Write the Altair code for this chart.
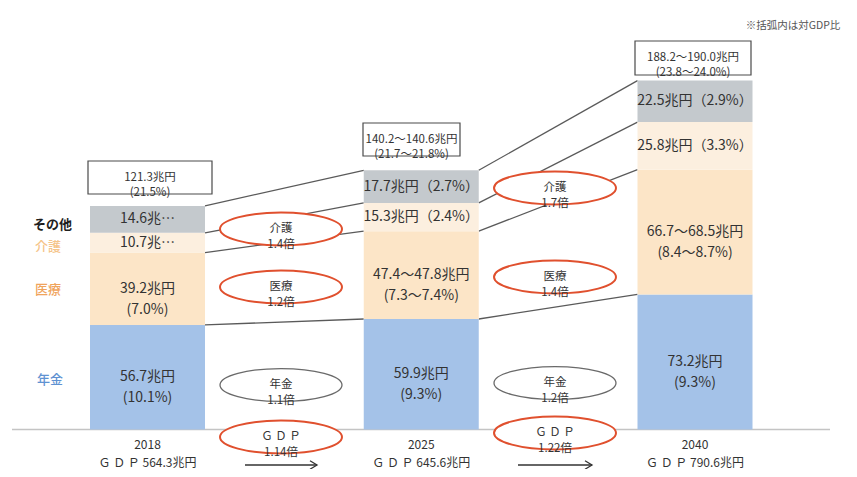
import altair as alt
import pandas as pd

# ---------------- data ----------------
years = ["2018", "2025", "2040"]
gdp_total = ["564.3", "645.6", "790.6"]
categories = ["年金", "医療", "介護", "その他"]
pension = [56.7, 59.9, 73.2]
medical_low = [39.2, 47.4, 66.7]
medical_high = [39.2, 47.8, 68.5]
care = [10.7, 15.3, 25.8]
other = [14.6, 17.7, 22.5]
pension_label = ["56.7兆円\n(10.1%)", "59.9兆円\n(9.3%)", "73.2兆円\n(9.3%)"]
medical_label = ["39.2兆円\n(7.0%)", "47.4～47.8兆円\n(7.3～7.4%)", "66.7～68.5兆円\n(8.4～8.7%)"]
care_label = ["10.7兆…", "15.3兆円（2.4%）", "25.8兆円（3.3%）"]
other_label = ["14.6兆…", "17.7兆円（2.7%）", "22.5兆円（2.9%）"]
total_label = ["121.3兆円\n(21.5%)", "140.2～140.6兆円\n(21.7～21.8%)", "188.2～190.0兆円\n(23.8～24.0%)"]
care_ratio = ["1.4倍", "1.7倍"]
medical_ratio = ["1.2倍", "1.4倍"]
pension_ratio = ["1.1倍", "1.2倍"]
gdp_ratio = ["1.14倍", "1.22倍"]
note = "※括弧内は対GDP比"

# ---------------- layout ----------------
W, H = 841, 461
BAR0, STEP = 147.5, 273.75      # page px of first bar centre, spacing
BASE, PX = 429.5, 1.845         # page px of zero line, px per 兆円
FONT = "Noto Sans CJK JP"


def ux(p):
    return (p - BAR0) / STEP


def uy(p):
    return (BASE - p) / PX


xs = alt.Scale(domain=[ux(8), ux(8 + W)], nice=False, zero=False)
ys = alt.Scale(domain=[uy(8 + H), uy(8)], nice=False, zero=False)
hw = 57.5 / STEP

seg_colors = ["#a4c2e8", "#fce5c7", "#fcefdf", "#c4c9cd"]

seg_rows, line_rows, cum_all = [], [], []
for i in range(3):
    med = (medical_low[i] + medical_high[i]) / 2
    vals = [pension[i], med, care[i], other[i]]
    labs = [pension_label[i], medical_label[i], care_label[i], other_label[i]]
    c = 0.0
    cums = []
    for k in range(4):
        seg_rows.append(dict(x=i - hw, x2=i + hw, y=c, y2=c + vals[k], cat=categories[k],
                             label=labs[k], mid=c + vals[k] / 2, xc=i))
        c += vals[k]
        cums.append(c)
    cum_all.append(cums)
for i in range(2):
    for k in range(4):
        line_rows.append(dict(x=i + hw, x2=i + 1 - hw, y=cum_all[i][k], y2=cum_all[i + 1][k]))
seg_df = pd.DataFrame(seg_rows)
line_df = pd.DataFrame(line_rows)

X = lambda f="x": alt.X(f"{f}:Q", scale=xs, axis=None)
Y = lambda f="y": alt.Y(f"{f}:Q", scale=ys, axis=None)

axis_line = alt.Chart(pd.DataFrame([dict(x=ux(12), x2=ux(830), y=0)])).mark_rule(
    color="#c4c4c4", strokeWidth=1.5).encode(x=X(), x2="x2:Q", y=Y())

links = alt.Chart(line_df).mark_rule(color="#5a5a5a", strokeWidth=1.3).encode(
    x=X(), x2="x2:Q", y=Y(), y2="y2:Q")

bars = alt.Chart(seg_df).mark_rect().encode(
    x=X(), x2="x2:Q", y=Y(), y2="y2:Q",
    color=alt.Color("cat:N", scale=alt.Scale(domain=categories, range=seg_colors), legend=None))

bar_text = alt.Chart(seg_df).mark_text(font=FONT, fontSize=14, color="#333333",
                                       lineBreak="\n", lineHeight=21, baseline="middle").encode(
    x=X("xc"), y=Y("mid"), text="label:N")

# total boxes
box_px = [(88, 212, 161, 194), (363, 460, 123, 156), (635, 751, 41, 75)]
box_df = pd.DataFrame([dict(x=ux(l), x2=ux(r), y=uy(b), y2=uy(t), xc=ux((l + r) / 2),
                            yc=uy((t + b) / 2), label=total_label[i])
                       for i, (l, r, t, b) in enumerate(box_px)])
boxes = alt.Chart(box_df).mark_rect(fill="white", stroke="#4a4a4a", strokeWidth=1.2).encode(
    x=X(), x2="x2:Q", y=Y(), y2="y2:Q")
box_text = alt.Chart(box_df).mark_text(font=FONT, fontSize=11.5, color="#333333",
                                       lineBreak="\n", lineHeight=15, baseline="middle").encode(
    x=X("xc"), y=Y("yc"), text="label:N")

# ellipses
RED, GRAY = "#e0502e", "#6a6a6a"
ell_x_px = [281, 555]
ell_specs = [("介護", care_ratio, [229, 188], RED),
             ("医療", medical_ratio, [287, 277], RED),
             ("年金", pension_ratio, [385, 383], GRAY),
             ("Ｇ Ｄ Ｐ", gdp_ratio, [437, 433], RED)]
ell_rows = []
for name, ratios, yv, col in ell_specs:
    for j in range(2):
        ell_rows.append(dict(x=ux(ell_x_px[j]), y=uy(yv[j]), label=f"{name}\n{ratios[j]}",
                             stroke=col, sw=2.0 if col == RED else 1.3))
ell_df = pd.DataFrame(ell_rows)
ry = 0.27
k = 0.5523
ell_path = (f"M-1,0 C-1,{-ry*k:.4f} {-k:.4f},{-ry} 0,{-ry} C{k:.4f},{-ry} 1,{-ry*k:.4f} 1,0 "
            f"C1,{ry*k:.4f} {k:.4f},{ry} 0,{ry} C{-k:.4f},{ry} -1,{ry*k:.4f} -1,0 Z")
ellipses = alt.Chart(ell_df).mark_point(shape=ell_path, size=122 ** 2, filled=True, fill="white",
                                        opacity=1).encode(
    x=X(), y=Y(), stroke=alt.Stroke("stroke:N", scale=None),
    strokeWidth=alt.StrokeWidth("sw:Q", scale=None))
ell_text = alt.Chart(ell_df).mark_text(font=FONT, fontSize=11.5, color="#333333",
                                       lineBreak="\n", lineHeight=16, baseline="middle").encode(
    x=X(), y=Y(), text="label:N")

# year / GDP labels under bars
yr_df = pd.DataFrame([dict(x=i, y=uy(444.5), y2=uy(463), year=years[i],
                           gdp=f"Ｇ Ｄ Ｐ {gdp_total[i]}兆円") for i in range(3)])
year_text = alt.Chart(yr_df).mark_text(font=FONT, fontSize=12, color="#333333", baseline="middle").encode(
    x=X(), y=Y(), text="year:N")
gdp_text = alt.Chart(yr_df).mark_text(font=FONT, fontSize=12, color="#333333", baseline="middle").encode(
    x=X(), y=Y("y2"), text="gdp:N")

# arrows
arr_df = pd.DataFrame([dict(x=ux(245), x2=ux(317), y=uy(465)), dict(x=ux(518), x2=ux(592), y=uy(465))])
arrow_line = alt.Chart(arr_df).mark_rule(color="#333333", strokeWidth=1.3).encode(
    x=X(), x2="x2:Q", y=Y())
arrow_head = alt.Chart(arr_df).mark_point(shape="M-1,-0.6 L0,0 L-1,0.6", size=196, filled=False,
                                          stroke="#333333", strokeWidth=1.3, opacity=1).encode(
    x=X("x2"), y=Y())

# left category labels
left_df = pd.DataFrame([
    dict(x=ux(33), y=uy(225), t="その他", c="#1f1f1f"),
    dict(x=ux(35), y=uy(247), t="介護", c="#f5c488"),
    dict(x=ux(35), y=uy(290), t="医療", c="#f0a45c"),
    dict(x=ux(37), y=uy(380), t="年金", c="#5f92d2"),
])
left_bold = alt.Chart(left_df.iloc[:1]).mark_text(font=FONT, fontSize=13, align="left", baseline="middle",
                                                  fontWeight="bold").encode(
    x=X(), y=Y(), text="t:N", color=alt.Color("c:N", scale=None))
left_norm = alt.Chart(left_df.iloc[1:]).mark_text(font=FONT, fontSize=13, align="left", baseline="middle",
                                                  fontWeight=500).encode(
    x=X(), y=Y(), text="t:N", color=alt.Color("c:N", scale=None))

note_text = alt.Chart(pd.DataFrame([dict(x=ux(793), y=uy(26), t=note)])).mark_text(
    font=FONT, fontSize=10.5, color="#555555", baseline="middle").encode(x=X(), y=Y(), text="t:N")

chart = alt.layer(axis_line, links, bars, bar_text, boxes, box_text, ellipses, ell_text,
                  year_text, gdp_text, arrow_line, arrow_head, left_bold, left_norm, note_text).properties(
    width=W, height=H, padding=0, autosize=alt.AutoSizeParams(type="none"),
    background="white").configure_view(stroke=None)

chart.save("out.html", embed_options={"renderer": "svg", "actions": False})
